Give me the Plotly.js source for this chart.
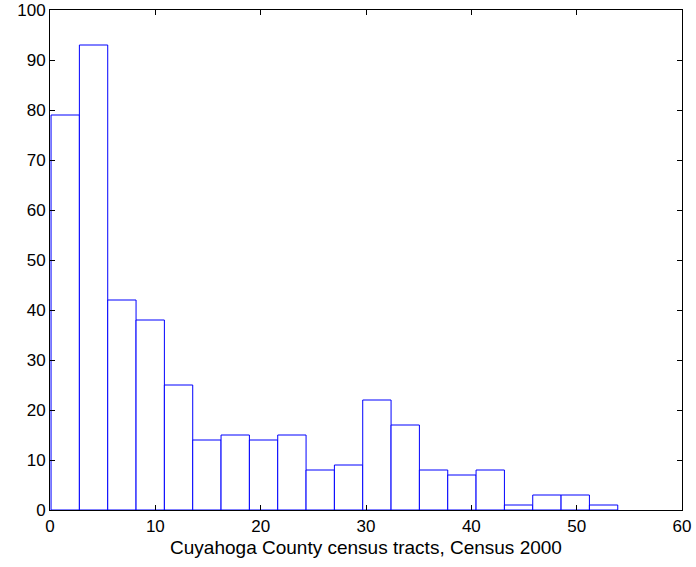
<!DOCTYPE html>
<html>
<head>
<meta charset="utf-8">
<script src="https://cdn.plot.ly/plotly-3.0.1.min.js"></script>
<style>html,body{margin:0;padding:0;background:#fff;}#chart{width:696px;height:567px;}</style>
</head>
<body>
<div id="chart"></div>
<script>
// Histogram counts
const counts = [79, 93, 42, 38, 25, 14, 15, 14, 15, 8, 9, 22, 17, 8, 7, 8, 1, 3, 3, 1];
const binStart = 0.1;
const binEnd = 53.9;
const xTicks = [0, 10, 20, 30, 40, 50, 60];
const yTicks = [0, 10, 20, 30, 40, 50, 60, 70, 80, 90, 100];
const xLabel = 'Cuyahoga County census tracts, Census 2000';

const binWidth = (binEnd - binStart) / counts.length;
const centers = counts.map((_, i) => binStart + binWidth * (i + 0.5));

const trace = {
  type: 'bar',
  x: centers,
  y: counts,
  width: counts.map(() => binWidth),
  marker: {color: '#ffffff', line: {color: '#0000ff', width: 1}},
  hoverinfo: 'x+y'
};

const fontFam = 'Liberation Sans, Arial, sans-serif';
const axisCommon = {
  showline: true, linecolor: '#000', linewidth: 1, mirror: 'ticks',
  ticks: 'inside', ticklen: 5, tickcolor: '#000', tickwidth: 1,
  showgrid: false, zeroline: false,
  tickfont: {family: fontFam, size: 17, color: '#000'}
};

const layout = {
  width: 696, height: 567,
  margin: {l: 50, r: 14, t: 10, b: 57},
  paper_bgcolor: '#fff', plot_bgcolor: '#fff',
  showlegend: false,
  bargap: 0,
  xaxis: Object.assign({}, axisCommon, {
    range: [0, 60], tickmode: 'array', tickvals: xTicks, ticktext: xTicks.map(String),
    ticklabelstandoff: 1,
    title: {text: xLabel, standoff: 5, font: {family: fontFam, size: 19, color: '#000'}}
  }),
  yaxis: Object.assign({}, axisCommon, {
    range: [0, 100], tickmode: 'array', tickvals: yTicks, ticktext: yTicks.map(String)
  })
};

Plotly.newPlot('chart', [trace], layout, {staticPlot: true, displayModeBar: false});
</script>
</body>
</html>
